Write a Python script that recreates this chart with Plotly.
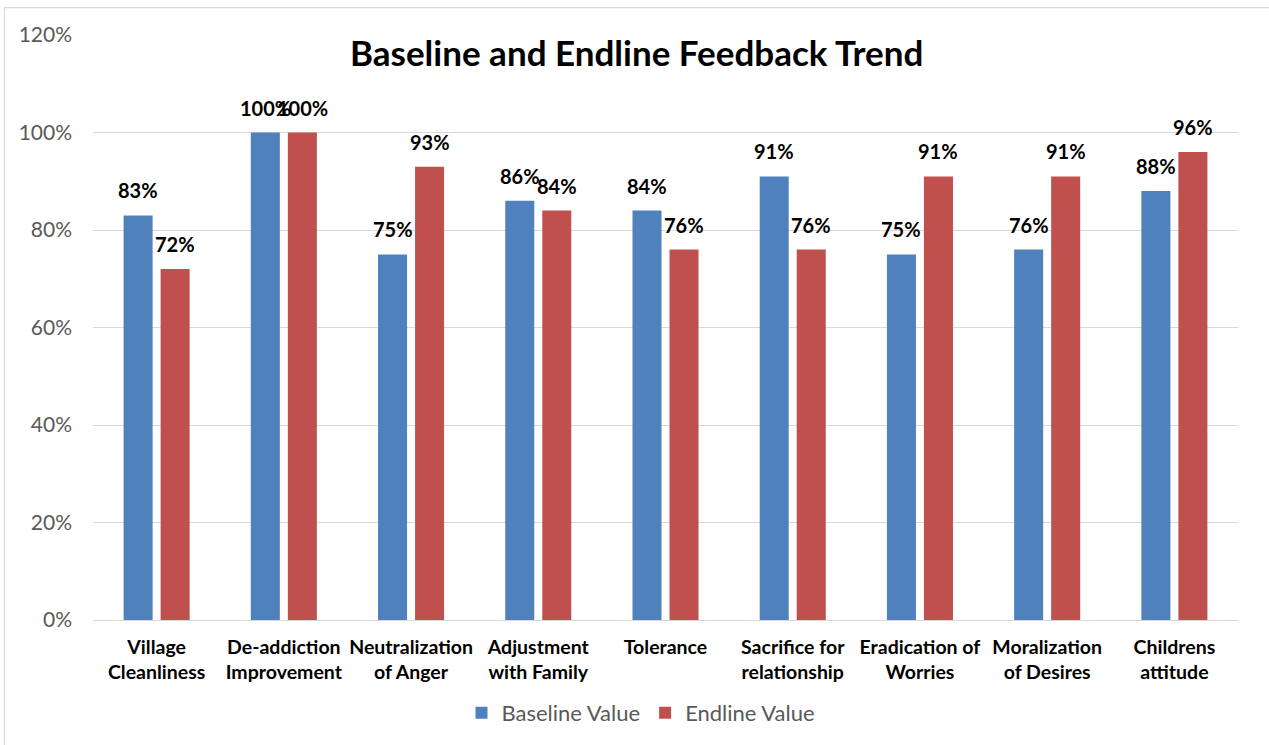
import plotly.graph_objects as go

categories = ["Village<br>Cleanliness", "De-addiction<br>Improvement", "Neutralization<br>of Anger",
              "Adjustment<br>with Family", "Tolerance", "Sacrifice for<br>relationship",
              "Eradication of<br>Worries", "Moralization<br>of Desires", "Childrens<br>attitude"]
baseline = [83, 100, 75, 86, 84, 91, 75, 76, 88]
endline = [72, 100, 93, 84, 76, 76, 91, 91, 96]
y_ticks = [0, 20, 40, 60, 80, 100, 120]
y_tick_labels = [f"{v}%" for v in y_ticks]

BLUE = "#4F81BD"
RED = "#C0504D"
FONT = "Lato"

W, H = 1269, 745
L, R, T, B = 93, 31, 35, 124
pw, ph = W - L - R, H - T - B

fig = go.Figure()
fig.add_trace(go.Bar(name="Baseline Value", x=categories, y=baseline,
                     marker=dict(color=BLUE, line=dict(width=0))))
fig.add_trace(go.Bar(name="Endline Value", x=categories, y=endline,
                     marker=dict(color=RED, line=dict(width=0))))

annotations = []
for cat, b, e in zip(categories, baseline, endline):
    for val, xs in ((b, -18.5), (e, 18.5)):
        annotations.append(dict(x=cat, y=val, xref="x", yref="y", text=f"{val}%",
                                showarrow=False, xshift=xs, yshift=25, yanchor="middle",
                                font=dict(family=FONT, size=20, color="#000000", weight="bold")))

annotations.append(dict(x=(636 - L) / pw, y=(ph - (52 - T)) / ph,
                        xref="paper", yref="paper", showarrow=False,
                        text="<b>Baseline and Endline Feedback Trend</b>",
                        xanchor="center", yanchor="middle",
                        font=dict(family=FONT, size=35, color="#000000")))

fig.update_layout(
    width=W, height=H,
    margin=dict(l=L, r=R, t=T, b=B),
    paper_bgcolor="white", plot_bgcolor="white",
    barmode="group", bargap=0.418, bargroupgap=0.216,
    annotations=annotations,
    showlegend=True,
    legend=dict(orientation="h", x=(641 - L) / pw, xanchor="center", y=-(713 - (T + ph)) / ph,
                yanchor="middle",
                font=dict(family=FONT, size=22, color="#595959"), traceorder="normal",
                itemsizing="constant"),
    shapes=[dict(type="rect", xref="paper", yref="paper",
                 x0=(4.5 - L) / pw, x1=(W + 10 - L) / pw,
                 y0=-(H + 10 - T - ph) / ph, y1=(T + ph - 7.5) / ph,
                 line=dict(color="#D9D9D9", width=1.2), fillcolor="rgba(0,0,0,0)", layer="below")],
)

fig.update_yaxes(range=[0, 120], tickvals=y_ticks, ticktext=y_tick_labels,
                 showgrid=True, gridcolor="#D9D9D9", gridwidth=1.3, zeroline=False,
                 showline=False, ticks="", ticklabelstandoff=20,
                 tickfont=dict(family=FONT, size=21, color="#595959"))
fig.update_xaxes(showline=True, linecolor="#D9D9D9", linewidth=1.3, ticks="",
                 ticklabelstandoff=9,
                 tickfont=dict(family=FONT, size=19.5, color="#000000", weight="bold"))

fig.write_html("out.html", config={"displayModeBar": False},
               post_script="document.body.style.margin='0px';document.body.style.overflow='hidden';")
